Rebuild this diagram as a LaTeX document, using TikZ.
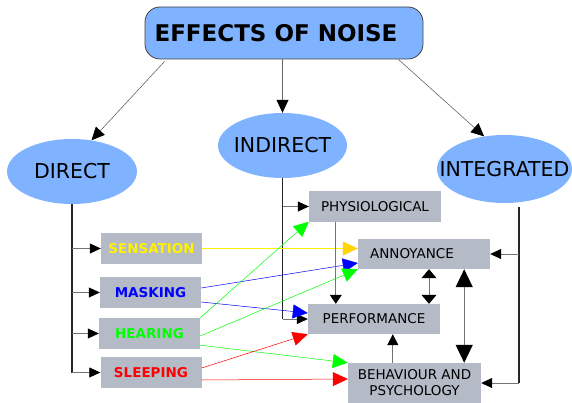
\documentclass[tikz,border=0pt]{standalone}
\usepackage{fontspec}
\setmainfont{DejaVu Sans}
\usetikzlibrary{arrows.meta,calc,shapes.geometric}
\definecolor{skyblue}{RGB}{128,179,255}
\definecolor{boxgrey}{RGB}{180,186,198}
\definecolor{tipgold}{RGB}{255,212,0}
\tikzset{
  bubble/.style={ellipse, fill=skyblue, inner sep=0pt, font=\fontsize{20.5}{24}\selectfont},
  effect/.style={rectangle, fill=boxgrey, inner sep=0pt, minimum width=132pt, minimum height=30pt, font=\fontsize{13.5}{16}\selectfont},
  cause/.style={effect, minimum width=101pt, minimum height=31pt, font=\fontsize{13.5}{16}\selectfont\bfseries},
  trunk/.style={line width=1.4pt, black!85},
  tie/.style={line width=0.7pt, black!55},
  twig/.style={tie, -{Triangle[length=11pt,width=10pt,color=black]}},
  feed/.style={line width=0.5pt, -{Triangle[length=15pt,width=14pt]}}
}

\begin{document}
\begin{tikzpicture}[x=1pt,y=-1pt]
			%%%%% START %%%%%
			\useasboundingbox (0,0) rectangle (572,403);
			
			\node[draw=black!75, line width=0.8pt, fill=skyblue, rounded corners=15pt, minimum width=278pt, minimum height=52pt, inner sep=0pt, font=\fontsize{23}{28}\selectfont\bfseries] (title) at (284,33) {EFFECTS OF NOISE\hspace*{16pt}};
			
			\node[bubble, minimum width=130pt, minimum height=65pt] (direct) at (72,171.5) {\makebox[0pt]{DIRECT}};
			\node[bubble, minimum width=129pt, minimum height=65pt] (indirect) at (282.5,145.5) {\makebox[0pt]{INDIRECT}};
			\node[bubble, minimum width=135pt, minimum height=68pt] (integ) at (504.5,169) {\makebox[0pt]{INTEGRATED}};
			
			\node[cause, text=yellow] (sens) at (151.5,248.5) {SENSATION};
			\node[cause, text=blue] (mask) at (150.5,292.5) {MASKING};
			\node[cause, text=green] (hear) at (149.5,333.5) {HEARING};
			\node[cause, text=red] (sleep) at (151,372.5) {SLEEPING};
			
			\node[effect] (phys) at (375,206.5) {PHYSIOLOGICAL};
			\node[effect] (annoy) at (424,254) {ANNOYANCE\hspace*{24pt}};
			\node[effect] (perf) at (374,319) {PERFORMANCE};
			\node[effect, minimum width=133pt, minimum height=40pt, align=center] (behav) at (414.5,383) {BEHAVIOUR AND\\PSYCHOLOGY};
			
			\draw[line width=0.6pt, black!60, -{Triangle[length=13pt,width=12pt,color=black]}] ($(title.south west)+(20,2)$) -- (direct.58);
			\draw[line width=0.6pt, black!60, -{Triangle[length=13pt,width=12pt,color=black]}] (indirect.north |- title.south) -- (indirect.north);
			\draw[line width=0.6pt, black!60, -{Triangle[length=13pt,width=12pt,color=black]}] ($(title.south east)+(-25,0)$) -- (integ.122);
			
			\draw[trunk] (direct.south) -- (direct.south |- sleep.west);
			\foreach \c in {sens,mask,hear,sleep}
				\draw[twig] (direct.south |- \c.west) -- (\c.west);
			
			\draw[trunk] (indirect.south) -- (indirect.south |- perf.west);
			\foreach \c in {phys,perf}
				\draw[twig] (indirect.south |- \c.west) -- (\c.west);
			
			\coordinate (itop) at ($(integ.south)+(14.5,4)$);
			\draw[trunk] (itop) -- (itop |- behav.east);
			\foreach \c in {annoy,behav}
				\draw[twig] (itop |- \c.east) -- (\c.east);
			
			\draw[feed, yellow, -{Triangle[length=15pt,width=14pt,color=tipgold]}] (sens.east) -- (annoy.west |- sens.east);
			\draw[feed, blue] ($(mask.east)+(0,-4.5)$) -- ($(annoy.west)+(0,9)$);
			\draw[feed, blue] ($(mask.east)+(0,9.5)$) -- ($(perf.west)+(0,-6)$);
			\draw[feed, green] (hear.north east) -- (phys.south west);
			\draw[feed, green] ($(hear.east)+(0,2.5)$) -- (annoy.south west);
			\draw[feed, green] ($(hear.south east)+(0,-4)$) -- (behav.north west);
			\draw[feed, red] ($(sleep.east)+(0,-4.5)$) -- (perf.south west);
			\draw[feed, red] ($(sleep.east)+(0,7.5)$) -- ($(behav.west)+(0,-4)$);
			
			\draw[tie, -{Triangle[length=9pt,width=12pt,color=black]}] ($(phys.south west)+(27,0)$) -- ($(perf.north west)+(28,0)$);
			\draw[tie, {Triangle[length=9pt,width=15pt,color=black]}-{Triangle[length=9pt,width=15pt,color=black]}] ($(annoy.south)+(5,0)$) -- ($(perf.north)+(55,0)$);
			\draw[tie, line width=1pt, {Triangle[length=18pt,width=17pt,color=black]}-{Triangle[length=18pt,width=17pt,color=black]}] ($(annoy.south east)+(-26,0)$) -- ($(behav.north east)+(-17,0)$);
			\draw[tie, -{Triangle[length=11pt,width=11pt,color=black]}] ($(behav.north west)+(45,0)$) -- ($(perf.south west)+(85,0)$);
			
			%%%%% END %%%%%
\end{tikzpicture}
\end{document}
